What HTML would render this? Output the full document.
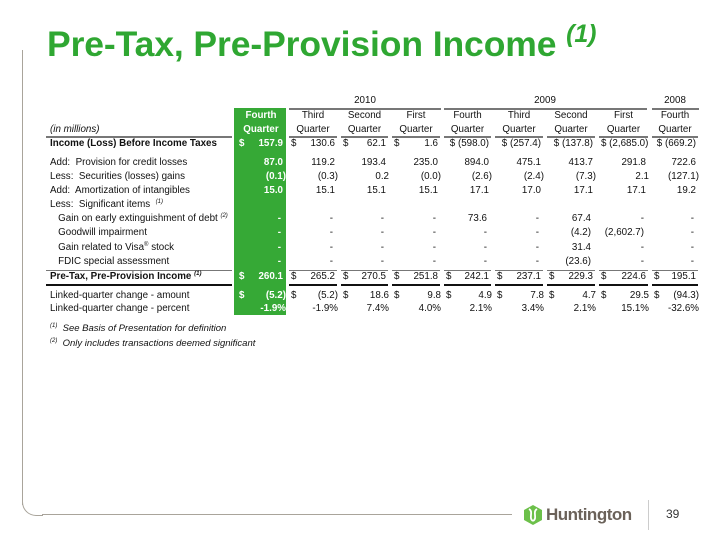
<!DOCTYPE html>
<html><head><meta charset="utf-8"><style>
body{margin:0;width:720px;height:540px;background:#fff;position:relative;overflow:hidden;font-family:"Liberation Sans",Arial,sans-serif;color:#111}
.t{position:absolute;left:47px;top:24px;font-size:35.5px;font-weight:bold;color:#2fa732;white-space:nowrap;letter-spacing:-0.1px}
.t i{font-size:25px;position:relative;top:-14px}
.g{position:absolute;left:234px;top:108px;width:52px;height:207px;background:#36a936}
.r{position:absolute;left:46px;width:660px;height:14px;line-height:14px;font-size:9.8px;white-space:nowrap}
.r>div{position:absolute;top:0;height:14px}
.c{display:flex;justify-content:space-between;text-align:right;box-sizing:border-box;padding:0 2px 0 4px}
.c span:last-child{margin-left:auto}
.w{color:#fff;font-weight:bold}
.ln{position:absolute;height:1px;background:#333}
sup{font-size:6px;font-style:italic;vertical-align:4px;line-height:0}
.fn{font-style:italic}
</style></head><body>
<div style="position:absolute;left:22px;top:50px;width:1px;height:455px;background:#a9a49b"></div>
<div style="position:absolute;left:22px;top:490px;width:20px;height:25px;border-left:1px solid #a9a49b;border-bottom:1px solid #a9a49b;border-bottom-left-radius:14px"></div>
<div style="position:absolute;left:42px;top:514px;width:470px;height:1px;background:#a9a49b"></div>
<div class="t">Pre-Tax, Pre-Provision Income <i>(1)</i></div>
<div class="g"></div>

<div id="rows"></div>
<script>
var cols=[[235,287],[287,339],[339,390],[390,442],[442,493],[493,545],[545,597],[597,650],[650,700]];
var H='';
function row(y,label,cells,opt){opt=opt||{};
 H+='<div class="r" style="top:'+(y-7)+'px;left:0;width:720px;">';
 if(label!==null)H+='<div style="left:50px;'+(opt.lb?'font-weight:bold;':'')+'">'+label+'</div>';
 cells.forEach(function(v,i){var c=cols[i];var d='';
  if(v===null)return;
  if(typeof v==='object'){d=v[0];v=v[1];}
  H+='<div class="c'+(i==0?' w':'')+'" style="left:'+c[0]+'px;width:'+(c[1]-c[0])+'px;'+(opt.pr?'padding-right:'+opt.pr+'px;':'')+'">'+(d?'<span>'+d+'</span>':'')+'<span>'+v+'</span></div>';
 });
 H+='</div>';}
function ln(x1,x2,y,h,c){H+='<div class="ln" style="left:'+x1+'px;width:'+(x2-x1)+'px;top:'+y+'px;height:'+(h||1)+'px;background:'+(c||'#333')+'"></div>';}
function txt(x,y,w,s,st){H+='<div class="r" style="left:'+x+'px;width:'+w+'px;top:'+(y-7)+'px;text-align:center;'+(st||'')+'">'+s+'</div>';}
txt(289,101,152,'2010');txt(444,101,202,'2009');txt(650,101,50,'2008');
ln(289,441,108,2,'#777');ln(444,647,108,2,'#777');ln(652,699,108,2,'#777');
var h1=['Fourth','Third','Second','First','Fourth','Third','Second','First','Fourth'];
cols.forEach(function(c,i){txt(c[0],116,c[1]-c[0],h1[i],i==0?'color:#fff;font-weight:bold':'');txt(c[0],130,c[1]-c[0],'Quarter',i==0?'color:#fff;font-weight:bold':'');if(i>0)ln(c[0]+2,c[1]-2,136,2,'#777');});
ln(46,232,136,2,'#777');
H+='<div class="r" style="left:50px;top:123px;width:150px;font-style:italic">(in millions)</div>';
row(144,'Income (Loss) Before Income Taxes',[['$','157.9'],['$','130.6'],['$','62.1'],['$','1.6'],'$ (598.0)','$ (257.4)','$ (137.8)','$ (2,685.0)','$ (669.2)'],{lb:1,pr:4});
row(163,'Add:&nbsp; Provision for credit losses',['87.0','119.2','193.4','235.0','894.0','475.1','413.7','291.8','722.6'],{pr:4});
row(177,'Less:&nbsp; Securities (losses) gains',['(0.1)','(0.3)','0.2','(0.0)','(2.6)','(2.4)','(7.3)','2.1','(127.1)'],{pr:1});
row(191,'Add:&nbsp; Amortization of intangibles',['15.0','15.1','15.1','15.1','17.1','17.0','17.1','17.1','19.2'],{pr:4});
row(205,'Less:&nbsp; Significant items &nbsp;<sup>(1)</sup>',[]);
row(219,'&nbsp;&nbsp;&nbsp;Gain on early extinguishment of debt <sup>(2)</sup>',['-','-','-','-','73.6','-','67.4','-','-'],{pr:6});
row(233,'&nbsp;&nbsp;&nbsp;Goodwill impairment',['-','-','-','-','-','-','(4.2)','(2,602.7)','-'],{pr:6});
row(248,'&nbsp;&nbsp;&nbsp;Gain related to Visa<sup style="font-style:normal">®</sup> stock',['-','-','-','-','-','-','31.4','-','-'],{pr:6});
row(262,'&nbsp;&nbsp;&nbsp;FDIC special assessment',['-','-','-','-','-','-','(23.6)','-','-'],{pr:6});
cols.forEach(function(c,i){if(i>0)ln(c[0]+2,c[1]-2,270,1,'#777');});ln(46,232,270,1,'#777');
row(277,'Pre-Tax, Pre-Provision Income <sup>(1)</sup>',[['$','260.1'],['$','265.2'],['$','270.5'],['$','251.8'],['$','242.1'],['$','237.1'],['$','229.3'],['$','224.6'],['$','195.1']],{lb:1,pr:4});
cols.forEach(function(c,i){if(i>0)ln(c[0]+2,c[1]-2,284,2,'#111');});ln(46,232,284,2,'#111');
row(296,'Linked-quarter change - amount',[['$','(5.2)'],['$','(5.2)'],['$','18.6'],['$','9.8'],['$','4.9'],['$','7.8'],['$','4.7'],['$','29.5'],['$','(94.3)']],{pr:1});
row(309,'Linked-quarter change - percent',['-1.9%','-1.9%','7.4%','4.0%','2.1%','3.4%','2.1%','15.1%','-32.6%'],{pr:1});
H+='<div class="r fn" style="left:50px;top:322px;width:300px;font-size:9.5px"><sup>(1)</sup>&nbsp; See Basis of Presentation for definition</div>';
H+='<div class="r fn" style="left:50px;top:337px;width:300px;font-size:9.5px"><sup>(2)</sup>&nbsp; Only includes transactions deemed significant</div>';
document.getElementById('rows').innerHTML=H;
</script>
<svg style="position:absolute;left:522px;top:504px" width="22" height="22" viewBox="0 0 22 22"><polygon points="11,1 20,6 20,16 11,21 2,16 2,6" fill="#6cc04a"/><path d="M7,5 C12,8 6,14 11,17 M15,5 C10,8 16,14 11,17" stroke="#fff" stroke-width="1.8" fill="none"/></svg>
<div style="position:absolute;left:546px;top:505px;font-size:17px;font-weight:bold;color:#6b625a;letter-spacing:-0.5px">Huntington</div>
<div style="position:absolute;left:648px;top:500px;width:1px;height:30px;background:#ccc"></div>
<div style="position:absolute;left:666px;top:507px;font-size:12px;color:#333">39</div>
</body></html>
